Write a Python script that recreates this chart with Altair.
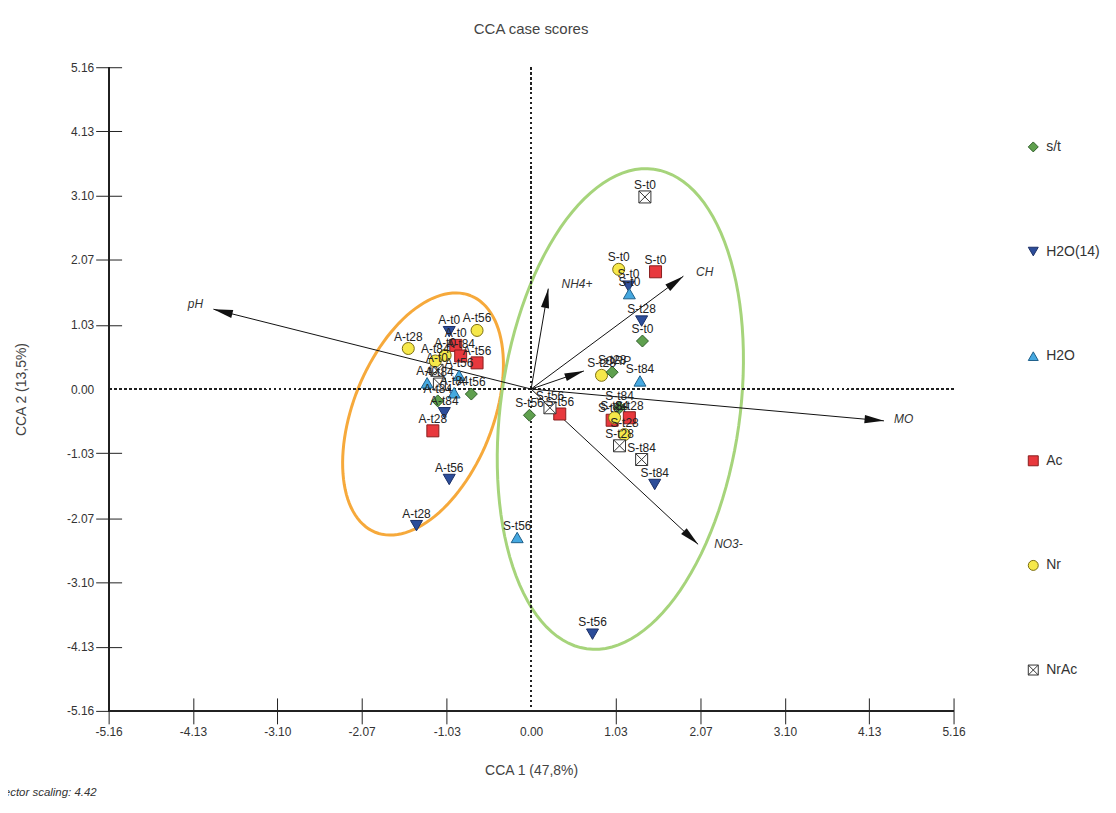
import math
import numpy as np
import pandas as pd
import altair as alt

FONT = "Liberation Sans"

# ---- axis ticks ----
TICKS = [-5.16, -4.13, -3.10, -2.07, -1.03, 0.0, 1.03, 2.07, 3.10, 4.13, 5.16]
W, H = 848, 646
KX = W / (TICKS[-1] - TICKS[0])
KY = H / (TICKS[-1] - TICKS[0])

# ---- groups / legend ----
groups = ["s/t", "H2O(14)", "H2O", "Ac", "Nr", "NrAc"]
shapes = ["diamond", "triangle-down", "triangle-up", "square", "circle",
          "M-1,-1L1,-1L1,1L-1,1Z M-1,-1L1,1 M1,-1L-1,1"]
fills = ["#5fa04e", "#2c4d9a", "#45a8e0", "#e8383d", "#f6e84a", "#ffffff"]
strokes = ["#2f5e2a", "#1b2f66", "#1f5f8a", "#8a1e1e", "#7a6c10", "#333333"]

# ---- case scores ----
pt_label = ["A-t28", "A-t56", "A-t0", "A-t84", "A-t56", "A-t0", "A-t56", "A-t0", "A-t84",
            "A-t56", "A-t84", "A-t84", "A-t28", "A-t56", "A-t28", "A-t0", "A-t0", "A-t84", "A-t84",
            "S-t0", "S-t0", "S-t0", "S-t0", "S-t0", "S-t28", "S-t0", "S-t28", "S-t84",
            "S-t84", "S-t28", "S-t84", "S-t28", "S-t28", "S-t84", "S-t56", "S-t56", "S-t56",
            "S-t84", "S-t56", "S-t56", "S-t84", "S-t28"]
pt_group = ["Nr", "Nr", "Ac", "Ac", "Ac", "Nr", "H2O", "H2O", "H2O",
            "s/t", "s/t", "H2O(14)", "Ac", "H2O(14)", "H2O(14)", "H2O(14)", "NrAc", "NrAc", "Nr",
            "NrAc", "Nr", "Ac", "H2O(14)", "H2O", "H2O(14)", "s/t", "Nr", "H2O",
            "Ac", "Ac", "Nr", "Nr", "NrAc", "NrAc", "Ac", "NrAc", "s/t",
            "H2O(14)", "H2O", "H2O(14)", "s/t", "s/t"]
pt_x = [-1.50, -0.66, -0.92, -0.86, -0.66, -1.05, -0.88, -1.27, -0.94,
        -0.73, -1.14, -1.06, -1.20, -1.00, -1.40, -1.00, -1.15, -1.12, -1.17,
        1.39, 1.07, 1.52, 1.19, 1.20, 1.35, 1.36, 0.86, 1.33,
        0.99, 1.20, 1.02, 1.14, 1.08, 1.35, 0.35, 0.23, -0.02,
        1.51, -0.17, 0.75, 1.08, 0.99]
pt_y = [0.65, 0.94, 0.70, 0.53, 0.42, 0.54, 0.22, 0.10, -0.06,
        -0.08, -0.19, -0.38, -0.67, -1.45, -2.19, 0.92, 0.30, 0.08, 0.45,
        3.08, 1.92, 1.88, 1.65, 1.53, 1.09, 0.77, 0.22, 0.13,
        -0.50, -0.46, -0.46, -0.73, -0.91, -1.13, -0.40, -0.30, -0.42,
        -1.53, -2.38, -3.93, -0.30, 0.27]

# ---- environmental vectors ----
arrow_name = ["pH", "NH4+", "CH", "ORP", "MO", "NO3-"]
arrow_x = [-3.88, 0.21, 1.86, 0.645, 4.31, 2.04]
arrow_y = [1.28, 1.61, 1.81, 0.29, -0.51, -2.49]
arrow_lab_x = [-4.10, 0.56, 2.12, 1.06, 4.55, 2.41]
arrow_lab_y = [1.37, 1.69, 1.87, 0.45, -0.48, -2.48]

# ---- group ellipses (centre in data units, semi-axes in px, tilt in degrees) ----
ell_name = ["A", "S"]
ell_cx = [-1.32, 1.09]
ell_cy = [-0.40, -0.32]
ell_a = [128, 243]
ell_b = [70, 120]
ell_tilt = [22, 8]
ell_color = ["#f6a93b", "#a6d47b"]

pts = pd.DataFrame({"label": pt_label, "group": pt_group, "x": pt_x, "y": pt_y})

arr = pd.DataFrame({"name": arrow_name, "x": arrow_x, "y": arrow_y,
                    "lx": arrow_lab_x, "ly": arrow_lab_y})
arr["ox"] = 0.0
arr["oy"] = 0.0
arr["ang"] = [(math.degrees(math.atan2(dx * KX, dy * KY)) + 360) % 360
              for dx, dy in zip(arrow_x, arrow_y)]

rows = []
for name, cx, cy, a, b, tilt in zip(ell_name, ell_cx, ell_cy, ell_a, ell_b, ell_tilt):
    ph = math.radians(tilt)
    for i, t in enumerate(np.linspace(0, 2 * math.pi, 121)):
        u, v = a * math.cos(t), b * math.sin(t)
        sx = u * math.sin(ph) + v * math.cos(ph)
        sy = -u * math.cos(ph) + v * math.sin(ph)
        rows.append({"ell": name, "i": i, "x": cx + sx / KX, "y": cy - sy / KY})
ell = pd.DataFrame(rows)

label_expr = "replace(format(datum.value, '.2f'), '\u2212', '-')"
tick_op = alt.condition("datum.value == 0", alt.value(0), alt.value(1))
common_axis = dict(values=TICKS, labelExpr=label_expr, domain=False, grid=False,
                   offset=-13, tickSize=26, tickColor="#222", tickWidth=1,
                   labelFontSize=12, labelColor="#333", labelFont=FONT,
                   titleFont=FONT, titleFontSize=14, titleFontWeight="normal",
                   titleColor="#444", tickOpacity=tick_op, labelFlush=False)
xaxis = alt.Axis(title="CCA 1 (47,8%)", labelPadding=3, titlePadding=26, **common_axis)
yaxis = alt.Axis(title="CCA 2 (13,5%)", labelPadding=2, titlePadding=38, **common_axis)
xs = alt.Scale(domain=[TICKS[0], TICKS[-1]], nice=False, zero=False)
ys = alt.Scale(domain=[TICKS[0], TICKS[-1]], nice=False, zero=False)


def X(f):
    return alt.X(f, type="quantitative", scale=xs, axis=xaxis)


def Y(f):
    return alt.Y(f, type="quantitative", scale=ys, axis=yaxis)


ellipses = alt.Chart(ell).mark_line(strokeWidth=3, interpolate="linear").encode(
    x=X("x"), y=Y("y"), detail="ell:N", order="i:Q",
    color=alt.Color("ell:N", scale=alt.Scale(domain=ell_name, range=ell_color), legend=None))

zero_v = alt.Chart(pts).mark_rule(strokeDash=[2, 3], color="#222", strokeWidth=1.2).encode(
    x=alt.datum(0))
zero_h = alt.Chart(pts).mark_rule(strokeDash=[2, 3], color="#222", strokeWidth=1.2).encode(
    y=alt.datum(0))
axis_v = alt.Chart(pts).mark_rule(color="#222", strokeWidth=1).encode(x=alt.datum(TICKS[0]))
axis_h = alt.Chart(pts).mark_rule(color="#222", strokeWidth=1).encode(y=alt.datum(TICKS[0]))

arrow_lines = alt.Chart(arr).mark_rule(color="#111", strokeWidth=1).encode(
    x=X("ox"), y=Y("oy"), x2="x", y2="y")
arrow_heads = alt.Chart(arr).mark_point(
    shape="M0,0L0.42,2L-0.42,2Z", filled=True, color="#111", size=380, opacity=1).encode(
    x=X("x"), y=Y("y"), angle=alt.Angle("ang:Q", scale=None))
arrow_text = alt.Chart(arr).mark_text(fontStyle="italic", fontSize=12, color="#333",
                                      font=FONT).encode(x=X("lx"), y=Y("ly"), text="name:N")

leg = alt.Legend(title=None, orient="none", legendX=921, legendY=73, rowPadding=91,
                 symbolSize=100, labelFontSize=14, labelFont=FONT, labelColor="#333",
                 labelOffset=6, symbolStrokeWidth=1)
points = alt.Chart(pts).mark_point(filled=True, size=145, opacity=1, strokeWidth=1).encode(
    x=X("x"), y=Y("y"),
    shape=alt.Shape("group:N", scale=alt.Scale(domain=groups, range=shapes), legend=leg),
    fill=alt.Fill("group:N", scale=alt.Scale(domain=groups, range=fills), legend=leg),
    stroke=alt.Stroke("group:N", scale=alt.Scale(domain=groups, range=strokes), legend=leg))
point_text = alt.Chart(pts).mark_text(fontSize=12, dy=-12, color="#222", font=FONT).encode(
    x=X("x"), y=Y("y"), text="label:N")

note = alt.Chart(pd.DataFrame({"n": [0]})).mark_text(
    align="right", fontStyle="italic", fontSize=11.5, color="#333", font=FONT).encode(
    x=alt.value(-12), y=alt.value(728), text=alt.value("Vector scaling: 4.42"))

chart = alt.layer(ellipses, zero_v, zero_h, axis_v, axis_h, arrow_lines, arrow_heads,
                  arrow_text, points, point_text, note).resolve_scale(
    color="independent"
).properties(
    width=W, height=H,
    title=alt.TitleParams("CCA case scores", fontSize=15, font=FONT, fontWeight="normal",
                          color="#444", offset=24, anchor="middle"),
    autosize=alt.AutoSizeParams(type="none"),
    padding={"left": 101, "top": 58, "right": 155, "bottom": 86},
).configure_view(stroke=None)

chart.save("out.html", embed_options={"renderer": "svg", "actions": False})
